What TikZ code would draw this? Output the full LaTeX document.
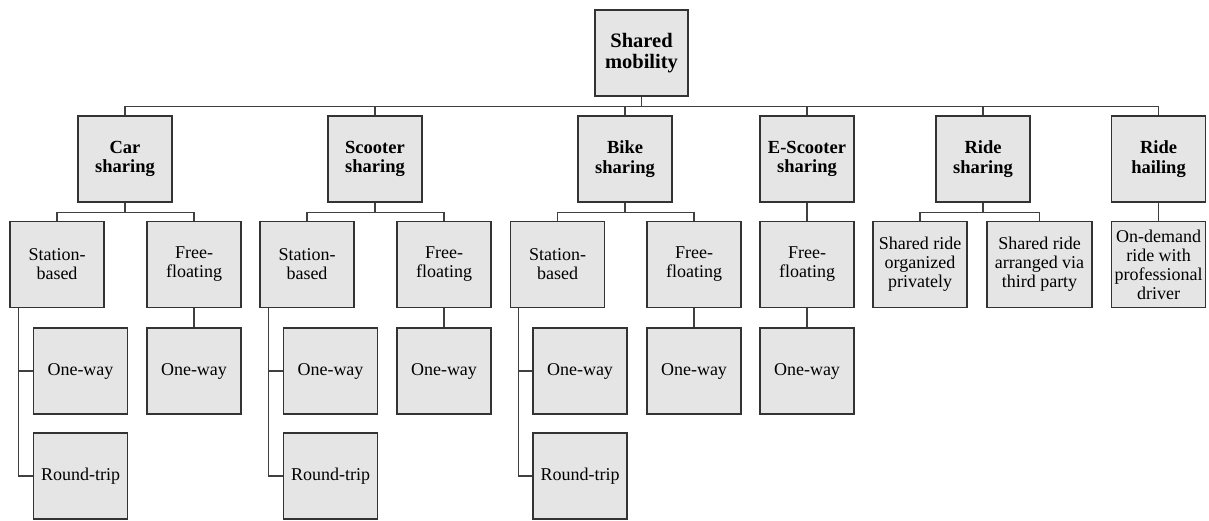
\documentclass[tikz,border=0pt]{standalone}
\usepackage{fontspec}
\setmainfont{Liberation Serif}
\usetikzlibrary{calc}

\tikzset{
    box/.style={draw=black!80, line width=1.2pt, fill=gray!20, align=center,
        minimum width=94pt, minimum height=86pt, inner sep=1pt,
        font=\fontsize{18}{19}\selectfont},
    headbox/.style={box, font=\fontsize{18.5}{19.5}\selectfont\bfseries},
    rootbox/.style={box, minimum width=93pt, font=\fontsize{20.5}{21.5}\selectfont\bfseries},
    link/.style={draw=black!75, line width=1.1pt}
}

\begin{document}
\begin{tikzpicture}[x=1pt, y=-1pt]
        \useasboundingbox (0,0) rectangle (1209,520);

        % Root
        \node[rootbox] (root) at (641.5,53) {Shared\\mobility};

        % First level
        \node[headbox] (car)   at (125,159)  {Car\\sharing};
        \node[headbox] (scoot) at (375,159)  {Scooter\\sharing};
        \node[headbox] (bike)  at (625,159)  {Bike\\sharing};
        \node[headbox] (escoot) at (807,159) {E-Scooter\\sharing};
        \node[headbox] (rides) at (983,159)  {Ride\\sharing};
        \node[headbox] (rideh) at (1158.5,159) {Ride\\hailing};

        % Second level
        \node[box] (carst)   at (57,264.5)   {Station-\\based};
        \node[box] (carfree) at (194,264.5)  {Free-\\floating};
        \node[box] (scst)    at (307,264.5)  {Station-\\based};
        \node[box] (scfree)  at (444,264.5)  {Free-\\floating};
        \node[box] (bkst)    at (557.5,264.5) {Station-\\based};
        \node[box] (bkfree)  at (694,264.5)  {Free-\\floating};
        \node[box] (esfree)  at (807,264.5)  {Free-\\floating};
        \node[box] (rsprivate) at (920,264.5) {Shared ride\\organized\\privately};
        \node[box, minimum width=105pt] (rsthird) at (1039.5,264.5) {Shared ride\\arranged via\\third party};
        \node[box] (rhdemand) at (1158.5,264.5) {On-demand\\ride with\\professional\\driver};

        % Third level
        \node[box] (carone)   at (80.5,371)  {One-way};
        \node[box] (carround) at (80.5,476)  {Round-trip};
        \node[box] (carfone)  at (194,371)   {One-way};
        \node[box] (scone)    at (330.5,371) {One-way};
        \node[box] (scround)  at (330.5,476) {Round-trip};
        \node[box] (scfone)   at (444,371)   {One-way};
        \node[box] (bkone)    at (580,371)   {One-way};
        \node[box] (bkround)  at (580,476)   {Round-trip};
        \node[box] (bkfone)   at (694,371)   {One-way};
        \node[box] (esfone)   at (807,371)   {One-way};

        % Draw the links from the root
        \draw[link] (root.south) -- +(0,10) -| (car.north);
        \draw[link] (root.south) -- +(0,10) -| (scoot.north);
        \draw[link] (root.south) -- +(0,10) -| (bike.north);
        \draw[link] (root.south) -- +(0,10) -| (escoot.north);
        \draw[link] (root.south) -- +(0,10) -| (rides.north);
        \draw[link] (root.south) -- +(0,10) -| (rideh.north);

        % Draw the links to the second level
        \draw[link] (car.south) -- +(0,10) -| (carst.north);
        \draw[link] (car.south) -- +(0,10) -| (carfree.north);
        \draw[link] (scoot.south) -- +(0,10) -| (scst.north);
        \draw[link] (scoot.south) -- +(0,10) -| (scfree.north);
        \draw[link] (bike.south) -- +(0,10) -| (bkst.north);
        \draw[link] (bike.south) -- +(0,10) -| (bkfree.north);
        \draw[link] (escoot.south) -- (esfree.north);
        \draw[link] (rides.south) -- +(0,10) -| (rsprivate.north);
        \draw[link] (rides.south) -- +(0,10) -| (rsthird.north);
        \draw[link] (rideh.south) -- (rhdemand.north);

        % Draw the links to the third level
        \draw[link] ([xshift=9pt]carst.south west) |- (carone.west);
        \draw[link] ([xshift=9pt]carst.south west) |- (carround.west);
        \draw[link] (carfree.south) -- (carfone.north);
        \draw[link] ([xshift=9pt]scst.south west) |- (scone.west);
        \draw[link] ([xshift=9pt]scst.south west) |- (scround.west);
        \draw[link] (scfree.south) -- (scfone.north);
        \draw[link] ([xshift=9pt]bkst.south west) |- (bkone.west);
        \draw[link] ([xshift=9pt]bkst.south west) |- (bkround.west);
        \draw[link] (bkfree.south) -- (bkfone.north);
        \draw[link] (esfree.south) -- (esfone.north);
    \end{tikzpicture}
\end{document}
